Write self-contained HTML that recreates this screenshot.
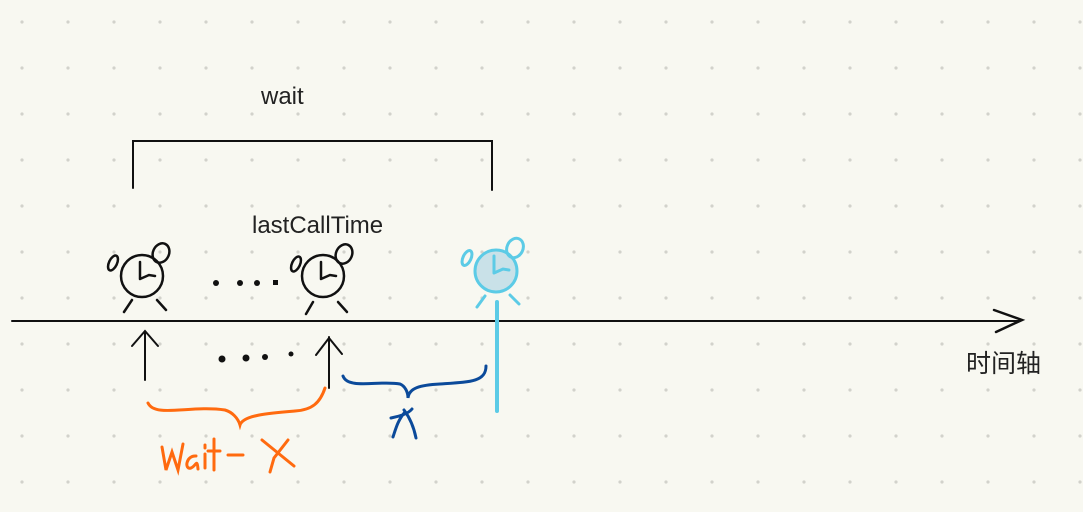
<!DOCTYPE html>
<html><head><meta charset="utf-8"><style>
html,body{margin:0;padding:0;background:#f8f8f1;}
svg{display:block}
</style></head><body>
<svg width="1083" height="512" viewBox="0 0 1083 512" xmlns="http://www.w3.org/2000/svg">
<defs><pattern id="d" x="0" y="0" width="46" height="46" patternUnits="userSpaceOnUse"><circle cx="22" cy="22" r="1.6" fill="#d2d2cb"/></pattern></defs>
<rect width="1083" height="512" fill="#f8f8f1"/>
<rect width="1083" height="512" fill="url(#d)"/>
<g font-family="Liberation Sans, sans-serif" font-size="24" fill="#222">
<text x="261" y="104">wait</text>
<text x="252" y="233">lastCallTime</text>
<text x="966" y="372" font-family="Liberation Sans, Noto Sans CJK SC, sans-serif" font-size="25">时间轴</text>
</g>
<g stroke="#111" stroke-width="2" fill="none" stroke-linecap="round">
<path d="M133 188 V141 H492 V190"/>
<path d="M12 321 H1020"/>
<path d="M994 310 L1022 320 L996 332" stroke-width="2.5"/>
<path d="M145 380 V331 M132 346 L145 331 L158 346"/>
<path d="M329 388 V337 M316 355 L329 338 L342 354"/>
</g>
<g stroke="#111" stroke-width="2.5" fill="none" stroke-linecap="round">
<circle cx="142" cy="276" r="21"/><path d="M140 262 V279 M140 279 L149 275 L155 276"/>
<ellipse cx="113" cy="263" rx="4" ry="8" transform="rotate(25 113 263)"/>
<ellipse cx="161" cy="253" rx="8" ry="10" transform="rotate(25 161 253)"/>
<path d="M132 300 L124 312 M157 300 L166 310"/>
<circle cx="323" cy="276" r="21"/><path d="M321 262 V279 M321 279 L330 275 L336 276"/>
<ellipse cx="296" cy="264" rx="4" ry="8" transform="rotate(25 296 264)"/>
<ellipse cx="344" cy="254" rx="8" ry="10" transform="rotate(25 344 254)"/>
<path d="M313 302 L306 314 M338 302 L347 312"/>
</g>
<g fill="#111"><circle cx="216" cy="283" r="3"/><circle cx="240" cy="283" r="3"/><circle cx="257" cy="283" r="3"/><rect x="273" y="280" width="5" height="5"/>
<circle cx="222" cy="359" r="3.5"/><circle cx="246" cy="358" r="3.5"/><circle cx="265" cy="357" r="3"/><circle cx="291" cy="354" r="2.5"/></g>
<g stroke="#5ccbe6" stroke-width="3" fill="none" stroke-linecap="round">
<circle cx="496" cy="271" r="21" fill="#c9e1e8"/><path d="M494 256 V273 M494 273 L503 269 L509 270"/>
<ellipse cx="467" cy="258" rx="4" ry="8" transform="rotate(25 467 258)"/>
<ellipse cx="515" cy="248" rx="8" ry="10" transform="rotate(25 515 248)"/>
<path d="M485 296 L477 307 M510 295 L519 304"/>
<path d="M497 302 V411" stroke-width="4"/>
</g>
<g stroke="#0b4a9a" stroke-width="3" fill="none" stroke-linecap="round">
<path d="M343 376 C348 390 380 380 400 384 C405 386 408 392 408 398 C409 388 420 385 440 384 C470 382 486 382 486 366"/>
<path d="M391 418 C400 416 408 414 412 409 M404 410 C410 418 414 428 416 438 M405 412 C398 420 396 428 393 437"/>
</g>
<g stroke="#ff6a0f" stroke-width="3" fill="none" stroke-linecap="round">
<path d="M148 403 C155 418 190 405 225 410 C232 412 238 418 240 425 C243 415 270 413 295 411 C312 410 320 403 325 388"/>
<path d="M162 447 L166 470 L172 452 L178 470 L183 444 M196 456 C186 455 184 470 191 468 C196 466 197 458 198 469 M205 454 L205 468 M205 445 L205 448 M214 439 L214 470 M208 451 L220 451 M228 455 L243 455 M262 440 L294 466 M288 440 L274 458 L270 472"/>
</g>
</svg>
</body></html>
